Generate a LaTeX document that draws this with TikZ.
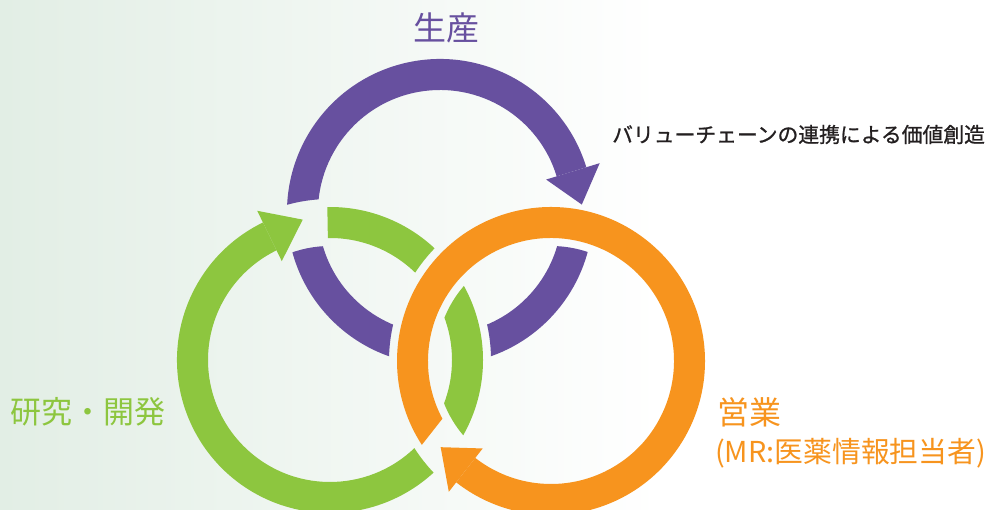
\documentclass[tikz,border=0pt]{standalone}
\usepackage{fontspec}
\newfontfamily\jp{Noto Sans CJK JP}
\newfontfamily\jpm[FakeBold=1]{Noto Sans CJK JP}
\definecolor{purp}{HTML}{67509F}
\definecolor{grn}{HTML}{8DC63F}
\definecolor{orng}{HTML}{F7941E}
\definecolor{bgl}{HTML}{E2EEE5}
\definecolor{txt}{HTML}{231F20}
\newcommand{\ringseg}[3]{\fill[#1] (#2:153) arc[start angle=#2,end angle=#3,radius=153] -- (#3:122) arc[start angle=#3,end angle=#2,radius=122] -- cycle;}
\tikzset{lbl/.style={inner sep=0pt, anchor=west}}
\begin{document}
\begin{tikzpicture}[x=1pt,y=1pt]
\useasboundingbox (0,0) rectangle (987,510);
\shade[left color=bgl,right color=white] (0,0) rectangle (660,510);
\fill[white] (660,0) rectangle (987,510);
% purple ring (under green and orange)
\begin{scope}[even odd rule]
\clip (-5,-5) rectangle (992,515) (330,150) circle[radius=161] (330,150) circle[radius=114];
\begin{scope}[even odd rule]
\clip (-5,-5) rectangle (992,515) (551,149) circle[radius=162] (551,149) circle[radius=115];
\begin{scope}[shift={(440,298)}, nonzero rule]
\ringseg{purp}{17}{190}
\ringseg{purp}{190}{265}
\ringseg{purp}{285}{355}
\end{scope}
\end{scope}
\end{scope}
\fill[purp, shift={(440,298)}] (17:111) -- (17:167) -- (3:142) -- cycle;
% green ring (under orange)
\begin{scope}[even odd rule]
\clip (-5,-5) rectangle (992,515) (551,149) circle[radius=162] (551,149) circle[radius=115];
\begin{scope}[shift={(330,150)}, nonzero rule]
\ringseg{grn}{116}{320}
\ringseg{grn}{40}{91}
\ringseg{grn}{-38}{38}
\end{scope}
\end{scope}
\fill[grn, shift={(330,150)}] (116:110) -- (116:166) -- (101:143) -- cycle;
% orange ring (top)
\begin{scope}[shift={(551,149)}]
\fill[orng] (232:154) arc[start angle=232,end angle=573,radius=154] -- (568:123) arc[start angle=568,end angle=232,radius=123] -- cycle;
\fill[orng] (232:111) -- (232:166) -- (218:140) -- cycle;
\end{scope}
% labels
\node[font=\jp\fontsize{33}{33}\selectfont, text=purp, inner sep=0pt] (sei) at (446,482) {生産};
\node[lbl, font=\jpm\fontsize{20.8}{20.8}\selectfont, text=txt] (vc) at (612,375.5) {バリューチェーンの連携による価値創造};
\node[lbl, font=\jp\fontsize{31}{31}\selectfont, text=grn] (rd) at (10,98) {研究・開発};
\node[lbl, font=\jp\fontsize{32}{32}\selectfont, text=orng] (ei) at (717,98) {営業};
\node[lbl, font=\jp\fontsize{28.8}{28.8}\selectfont, text=orng] (mr) at (715,57) {(MR:医薬情報担当者)};
\end{tikzpicture}
\end{document}
